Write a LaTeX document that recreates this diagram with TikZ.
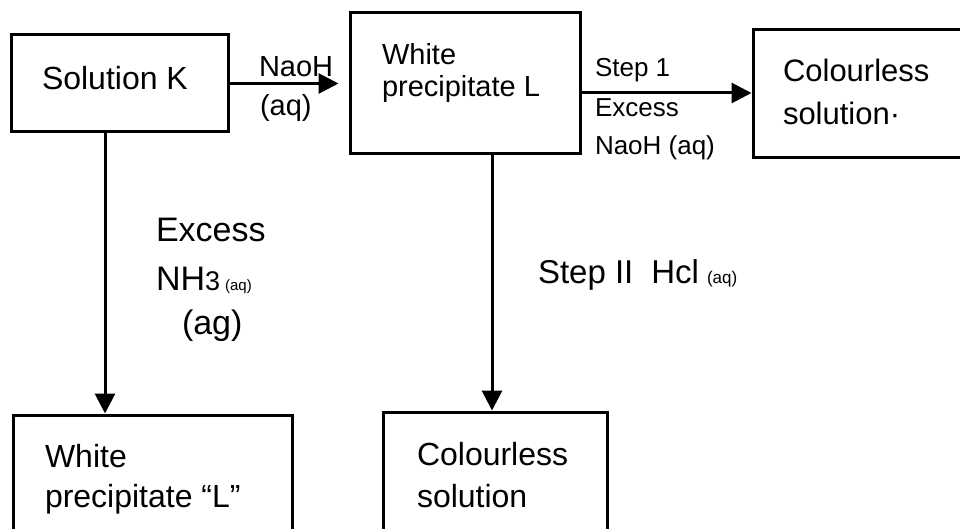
\documentclass[tikz,border=0pt]{standalone}
\usepackage{fontspec}
\setmainfont{Liberation Sans}
\usetikzlibrary{arrows.meta}
\newcommand{\fs}[1]{\fontsize{#1pt}{#1pt}\selectfont}
\begin{document}
\begin{tikzpicture}[x=1pt,y=-1pt,
  box/.style={draw,line width=3pt,inner sep=0pt},
  conn/.style={line width=3pt,-{Triangle[length=20pt,width=20pt]}},
  txt/.style={anchor=base west,inner sep=0pt,outer sep=0pt}]
\useasboundingbox (0,0) rectangle (960,529);
\clip (0,0) rectangle (960,529);
% boxes
\node[box,minimum width=217pt,minimum height=97pt] (K) at (119.5,83.5) {};
\node[box,minimum width=230pt,minimum height=141pt] (L) at (465,83.5) {};
\node[box,minimum width=222pt,minimum height=128pt] (C1) at (864,94) {};
\node[box,minimum width=279pt,minimum height=130pt] (L2) at (152.5,480) {};
\node[box,minimum width=224pt,minimum height=133pt] (C2) at (495,478.5) {};
% box texts
\node[txt] (tK) at (42,90) {\fs{32}Solution K};
\node[txt] (tL1) at (382,65) {\fs{29}White};
\node[txt] (tL2) at (382,97) {\fs{29}precipitate L};
\node[txt] (tC1a) at (783,82) {\fs{31}Colourless};
\node[txt] (tC1b) at (783,125) {\fs{31}solution\textperiodcentered};
\node[txt] (tL2a) at (45,467) {\fs{32}White};
\node[txt] (tL2b) at (45,507) {\fs{32}precipitate “L”};
\node[txt] (tC2a) at (417,465) {\fs{32}Colourless};
\node[txt] (tC2b) at (417,507) {\fs{32}solution};
% connector start points
\coordinate (p2) at ([yshift=-9.5pt]L.east);
\coordinate (p3) at ([xshift=-14.5pt]K.south);
\coordinate (p4) at ([xshift=27pt]L.south);
% connectors
\draw[conn,shorten >=10pt] (K.east) -- (L.west);
\draw[conn] (p2) -- (C1.west |- p2);
\draw[conn] (p3) -- (L2.north -| p3);
\draw[conn] (p4) -- (C2.north -| p4);
% labels
\node[txt] (n1) at (259,77) {\fs{29}NaoH};
\node[txt] (n2) at (260,116) {\fs{29}(aq)};
\node[txt] (s1) at (595,77) {\fs{26}Step 1};
\node[txt] (s2) at (595,117) {\fs{26}Excess};
\node[txt] (s3) at (595,155) {\fs{26}NaoH (aq)};
\node[txt] (e1) at (156,242) {\fs{34}Excess};
\node[txt] (e2) at (156,290) {\fs{34}NH\fs{27}3\hspace{5pt}\fs{15}(aq)};
\node[txt] (e3) at (182,334) {\fs{34}(ag)};
\node[txt] (h1) at (538,283) {\fs{33}Step II\hspace{18pt}Hcl\hspace{8pt}\fs{17}(aq)};
\end{tikzpicture}
\end{document}
